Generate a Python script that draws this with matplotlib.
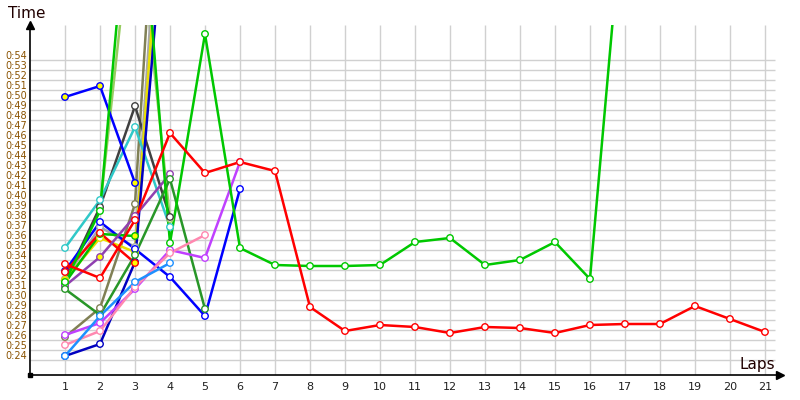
import matplotlib.pyplot as plt

# lap numbers on the x axis
laps = list(range(1, 22))
ytick_secs = list(range(24, 55))
ytick_labels = ['0:%02d' % s for s in ytick_secs]

# lap times (seconds) per car
olive = [25.8, 28.7, 39.1, 95.0]
yellowgreen = [31.0, 38.6, 70.8, 37.6]
darkgrey = [31.4, 38.8, 48.9, 37.8]
grey = [31.6, 36.8, 34.8, 86.6]
yellow = [31.5, 35.7, 34.3, 81.2]
cyan = [34.7, 39.5, 46.8, 36.8]
navy = [23.9, 25.1, 33.3, 74.8]
blue_a = [49.8, 50.9, 41.2]
blue_b = [32.4, 37.3, 34.6, 31.8, 27.9, 40.6]
green_b = [31.2, 36.1, 35.9]
red_b = [32.3, 36.2, 33.2]
purple = [30.9, 33.8, 37.9, 42.1]
darkgreen = [30.6, 28.0, 34.0, 41.6, 28.6]
violet = [26.0, 27.2, 30.6, 34.5, 33.7, 43.3]
pink = [25.0, 26.4, 30.8, 34.2, 36.0]
dodger = [23.9, 27.9, 31.3, 33.2]
green_main = [31.3, 38.4, 77.6, 35.2, 56.1, 34.7, 33.0, 32.9, 32.9, 33.0,
              35.3, 35.7, 33.0, 33.5, 35.3, 31.6, 71.3]
red_main = [33.1, 31.7, 37.5, 46.2, 42.2, 43.3, 42.4, 28.8, 26.4, 27.0, 26.8,
            26.2, 26.8, 26.7, 26.2, 27.0, 27.1, 27.1, 28.9, 27.6, 26.3]

# (values, line colour, laps drawn with a yellow marker)
series = [
    (olive, '#808055', []),
    (yellowgreen, '#98cc60', []),
    (darkgrey, '#404040', []),
    (grey, '#a8a8a8', []),
    (yellow, '#e8e000', [0]),
    (cyan, '#30c8c8', []),
    (navy, '#0000c0', []),
    (blue_a, '#0000ff', [0, 1, 2]),
    (blue_b, '#0000ff', [0]),
    (green_b, '#00c000', [0, 1, 2]),
    (red_b, '#ff0000', [2]),
    (purple, '#9040b0', [1]),
    (darkgreen, '#289628', []),
    (violet, '#c040ff', []),
    (pink, '#ff88b0', []),
    (dodger, '#1e90ff', []),
    (green_main, '#00c800', []),
    (red_main, '#ff0000', []),
]

fig = plt.figure(figsize=(8, 4), dpi=100)
ax = fig.add_axes([30 / 800, 25 / 400, 750 / 800, 350 / 400])
ax.set_xlim(0, 21.43)
ax.set_ylim(22, 57)

# grid
ax.vlines(laps, 22, 57, color='#d0d0d0', lw=1, zorder=0)
ax.hlines([s - 0.5 for s in ytick_secs], 0, 21.29, color='#d0d0d0', lw=1, zorder=0)

for vals, col, best in series:
    xs = laps[:len(vals)]
    ax.plot(xs, vals, color=col, lw=1.8, zorder=2)
    faces = ['#ffff00' if i in best else 'white' for i in range(len(vals))]
    ax.scatter(xs, vals, s=22, facecolors=faces, edgecolors=col, linewidths=1, zorder=3)

for side in ['top', 'right']:
    ax.spines[side].set_visible(False)
for side in ['left', 'bottom']:
    ax.spines[side].set_color('black')
    ax.spines[side].set_linewidth(1.2)

ax.set_xticks(laps)
ax.set_xticklabels([str(l) for l in laps], fontsize=8, color='#202020')
ax.set_yticks(ytick_secs)
ax.set_yticklabels(ytick_labels, fontsize=7, color='#8a5200')
ax.tick_params(length=0, pad=5)
ax.tick_params(axis='y', pad=2)

# axis arrows and origin mark
ax.plot(0, 1, '^k', ms=6, transform=ax.transAxes, clip_on=False)
ax.plot(1, 0, '>k', ms=6, transform=ax.transAxes, clip_on=False)
ax.plot(0, 0, 'sk', ms=3, transform=ax.transAxes, clip_on=False)

fig.text(8 / 800, 1 - 14 / 400, 'Time', fontsize=11, va='center', ha='left', color='#200000')
fig.text(775 / 800, 1 - 364 / 400, 'Laps', fontsize=11, va='center', ha='right', color='#200000')

fig.savefig('out.png', dpi=100)
